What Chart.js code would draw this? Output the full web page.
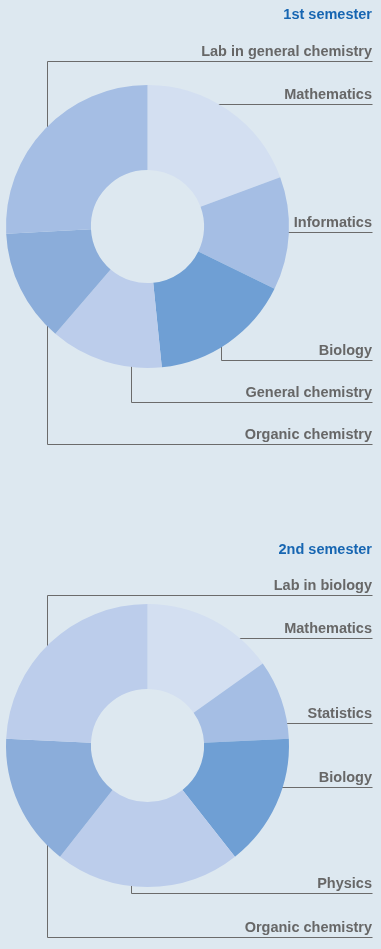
<!DOCTYPE html>
<html>
<head>
<meta charset="utf-8">
<script src="https://cdn.jsdelivr.net/npm/chart.js@4/dist/chart.umd.min.js"></script>
<style>
  html, body { margin: 0; padding: 0; background: #dde8f0; }
  #wrap { position: relative; width: 381px; height: 949px; }
  canvas { position: absolute; left: 0; }
</style>
</head>
<body>
<div id="wrap">
  <canvas id="sem1" width="381" height="475" style="top:0"></canvas>
  <canvas id="sem2" width="381" height="474" style="top:475px"></canvas>
</div>
<script>
(() => {
'use strict'

// credits per course
const titles = ['1st semester', '2nd semester']

const courses1 = ['Mathematics', 'Informatics', 'Biology', 'General chemistry', 'Organic chemistry', 'Lab in general chemistry']
const credits1 = [6, 4, 5, 4, 4, 8]

const courses2 = ['Mathematics', 'Statistics', 'Biology', 'Physics', 'Organic chemistry', 'Lab in biology']
const credits2 = [5, 3, 5, 7, 5, 8]

const shades1 = ['#d3dff1', '#a5bee4', '#6f9fd4', '#bccdeb', '#8badda', '#a5bee4']
const shades2 = ['#d3dff1', '#a5bee4', '#6f9fd4', '#bccdeb', '#8badda', '#bccdeb']

// leader rules: [y of the rule, x of the drop line] (null = rule starts at the ring)
const leaders1 = [[104.5, null], [232.5, null], [360.5, 221.5], [402.5, 131.5], [444.5, 47.5], [61.5, 47.5]]
const leaders2 = [[163.5, null], [248.5, null], [312.5, null], [418.5, 131.5], [462.5, 47.5], [120.5, 47.5]]

const RIGHT = 372
const FONT = 'bold 14.5px "Liberation Sans", Arial, sans-serif'

function leaderPlugin(title, titleY, leaders) {
  return {
    id: 'leaderLines',
    beforeDatasetsDraw(chart) {
      const arc = chart.getDatasetMeta(0).data[0]
      const cx = arc.x, cy = arc.y, r = arc.outerRadius
      const ctx = chart.ctx
      ctx.save()
      ctx.strokeStyle = '#6b6b6b'
      ctx.lineWidth = 1
      leaders.forEach(([y, x]) => {
        ctx.beginPath()
        if (x === null) {
          const dy = y - cy
          ctx.moveTo(cx + Math.sqrt(Math.max(r * r - dy * dy, 0)) - 1, y)
        } else {
          const dx = x - cx
          const edge = Math.sqrt(Math.max(r * r - dx * dx, 0)) - 2
          ctx.moveTo(x, y < cy ? cy - edge : cy + edge)
          ctx.lineTo(x, y)
        }
        ctx.lineTo(RIGHT + 0.5, y)
        ctx.stroke()
      })
      ctx.restore()
    },
    afterDraw(chart) {
      const ctx = chart.ctx
      ctx.save()
      ctx.font = FONT
      ctx.textAlign = 'right'
      ctx.textBaseline = 'alphabetic'
      ctx.fillStyle = '#1766b2'
      ctx.fillText(title, RIGHT, titleY)
      ctx.fillStyle = '#676767'
      chart.data.labels.forEach((lbl, i) => {
        ctx.fillText(lbl, RIGHT, leaders[i][0] - 6)
      })
      ctx.restore()
    }
  }
}

function semesterChart(id, labels, values, colors, padding, plugin) {
  return new Chart(document.getElementById(id), {
    type: 'doughnut',
    data: {
      labels: labels,
      datasets: [{ data: values, backgroundColor: colors, borderWidth: 0 }]
    },
    options: {
      responsive: false,
      animation: false,
      cutout: '40%',
      layout: { padding: padding },
      plugins: {
        legend: { display: false },
        tooltip: { enabled: false }
      }
    },
    plugins: [plugin]
  })
}

semesterChart('sem1', courses1, credits1, shades1,
  { left: 6, top: 85, right: 92, bottom: 107 },
  leaderPlugin(titles[0], 19, leaders1))

semesterChart('sem2', courses2, credits2, shades2,
  { left: 6, top: 129, right: 92, bottom: 62 },
  leaderPlugin(titles[1], 78.5, leaders2))
})()
</script>
</body>
</html>
